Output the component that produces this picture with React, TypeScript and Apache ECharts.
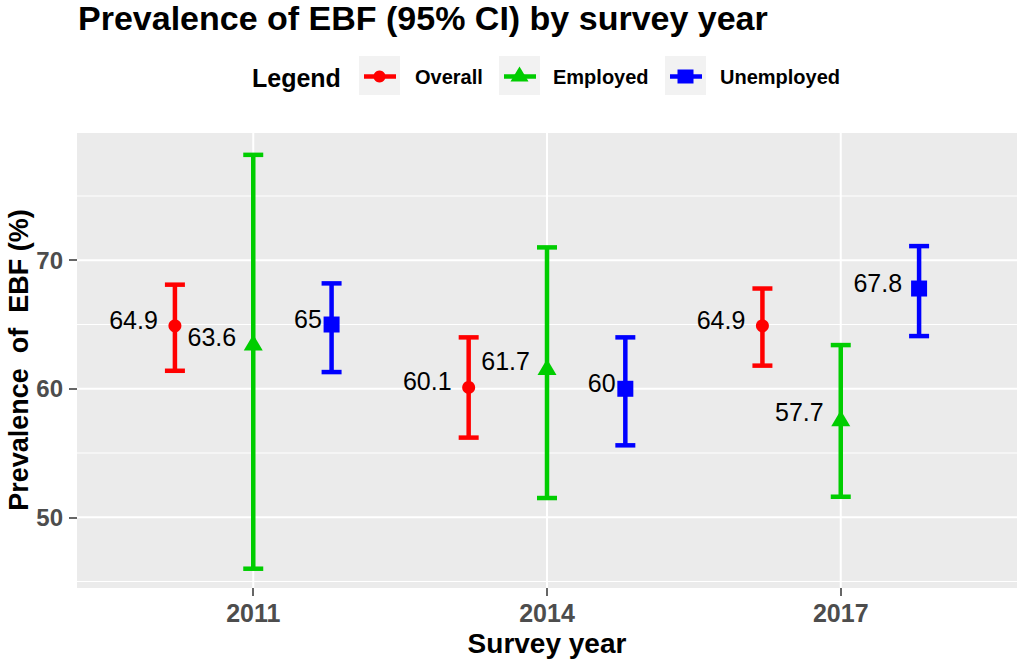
import React, { useEffect, useRef } from "react";
import * as echarts from "echarts";

const years = ["2011", "2014", "2017"];
const groupNames = ["Overall", "Employed", "Unemployed"];

const overallEst = [64.9, 60.1, 64.9];
const overallLow = [61.4, 56.2, 61.8];
const overallHigh = [68.1, 64.0, 67.8];

const employedEst = [63.6, 61.7, 57.7];
const employedLow = [46.0, 51.5, 51.6];
const employedHigh = [78.2, 71.0, 63.4];

const unemployedEst = [65, 60, 67.8];
const unemployedLow = [61.3, 55.6, 64.1];
const unemployedHigh = [68.2, 64.0, 71.1];

const yMajorTicks = [50, 60, 70];
const yMinorTicks = [45, 55, 65, 75];
const xTicks = [1, 2, 3];

const COLORS = ["#FF0000", "#00CD00", "#0000FF"];
const FONT = '"Liberation Sans", Arial, Helvetica, sans-serif';
const DODGE = 0.8 / 3;
const LABEL_SIZE = 25;

const groups = [
  { name: groupNames[0], est: overallEst, low: overallLow, high: overallHigh, symbol: "circle", size: 13, offset: -DODGE },
  { name: groupNames[1], est: employedEst, low: employedLow, high: employedHigh, symbol: "triangle", size: [19, 16], offset: 0 },
  { name: groupNames[2], est: unemployedEst, low: unemployedLow, high: unemployedHigh, symbol: "rect", size: 16, offset: DODGE },
];

function textWidth(s: string, size: number) {
  let w = 0;
  for (const ch of s) w += ch === "." ? 0.278 : 0.556;
  return w * size;
}

const gridLines = [
  ...yMinorTicks.map((v) => ({ axis: "y", value: v, major: false })),
  ...yMajorTicks.map((v) => ({ axis: "y", value: v, major: true })),
  ...xTicks.map((v) => ({ axis: "x", value: v, major: true })),
];

function buildOption(): any {
  const series: any[] = [];

  series.push({
    type: "custom",
    name: "grid",
    z: 1,
    silent: true,
    data: gridLines.map((g) => (g.axis === "y" ? [1, g.value] : [g.value, 60])),
    renderItem: (params: any, api: any) => {
      const g = gridLines[params.dataIndex];
      const cs = params.coordSys;
      const style = { stroke: "#FFFFFF", lineWidth: g.major ? 2 : 1.1 };
      if (g.axis === "y") {
        const y = api.coord([1, g.value])[1];
        return { type: "line", shape: { x1: cs.x, y1: y, x2: cs.x + cs.width, y2: y }, style };
      }
      const x = api.coord([g.value, 60])[0];
      return { type: "line", shape: { x1: x, y1: cs.y, x2: x, y2: cs.y + cs.height }, style };
    },
  });

  groups.forEach((g, gi) => {
    const color = COLORS[gi];
    series.push({
      type: "custom",
      name: g.name + " CI",
      z: 2,
      silent: true,
      encode: { x: 0, y: [1, 2] },
      data: years.map((_, i) => [i + 1 + g.offset, g.low[i], g.high[i]]),
      renderItem: (params: any, api: any) => {
        const x = api.value(0);
        const lo = api.coord([x, api.value(1)]);
        const hi = api.coord([x, api.value(2)]);
        const half = 10;
        const style = { stroke: color, lineWidth: 4.5, lineCap: "butt" };
        return {
          type: "group",
          children: [
            { type: "line", shape: { x1: lo[0], y1: lo[1], x2: hi[0], y2: hi[1] }, style },
            { type: "line", shape: { x1: hi[0] - half, y1: hi[1], x2: hi[0] + half, y2: hi[1] }, style },
            { type: "line", shape: { x1: lo[0] - half, y1: lo[1], x2: lo[0] + half, y2: lo[1] }, style },
          ],
        };
      },
    });
  });

  groups.forEach((g, gi) => {
    series.push({
      type: "scatter",
      name: g.name,
      z: 3,
      symbol: g.symbol,
      symbolSize: g.size,
      itemStyle: { color: COLORS[gi], opacity: 1 },
      label: {
        show: true,
        position: "inside",
        align: "right",
        verticalAlign: "middle",
        color: "#000000",
        fontSize: LABEL_SIZE,
        fontFamily: FONT,
        formatter: (p: any) => String(p.value[1]),
      },
      data: years.map((_, i) => {
        const txt = String(g.est[i]);
        const w = textWidth(txt, LABEL_SIZE);
        return { value: [i + 1 + g.offset, g.est[i]], label: { offset: [-0.35 * w, -6] } };
      }),
    });
  });

  const legendY = 76.5;
  const keyBoxes = [359, 499, 665];
  const keyLabels = [415, 553, 720];
  const graphic: any[] = [
    {
      type: "text",
      x: 78,
      y: 18,
      style: { text: "Prevalence of EBF (95% CI) by survey year", fontSize: 34, fontWeight: "bold", fontFamily: FONT, fill: "#000", align: "left", verticalAlign: "middle" },
    },
    {
      type: "text",
      x: 19,
      y: 360,
      rotation: Math.PI / 2,
      style: { text: "Prevalence  of  EBF (%)", fontSize: 27, fontWeight: "bold", fontFamily: FONT, fill: "#000", align: "center", verticalAlign: "middle" },
    },
    {
      type: "text",
      x: 252,
      y: 78,
      style: { text: "Legend", fontSize: 25, fontWeight: "bold", fontFamily: FONT, fill: "#000", align: "left", verticalAlign: "middle" },
    },
  ];
  groups.forEach((g, gi) => {
    const bx = keyBoxes[gi];
    const cx = bx + 20.5;
    const color = COLORS[gi];
    graphic.push({ type: "rect", shape: { x: bx, y: 56, width: 41, height: 39 }, style: { fill: "#F2F2F2" } });
    graphic.push({ type: "line", shape: { x1: bx + 5, y1: legendY, x2: bx + 37, y2: legendY }, style: { stroke: color, lineWidth: 4.5 } });
    if (g.symbol === "circle") {
      graphic.push({ type: "circle", shape: { cx, cy: legendY, r: 6 }, style: { fill: color } });
    } else if (g.symbol === "triangle") {
      graphic.push({ type: "polygon", shape: { points: [[cx, legendY - 10], [cx - 9, legendY + 5], [cx + 9, legendY + 5]] }, style: { fill: color } });
    } else {
      graphic.push({ type: "rect", shape: { x: cx - 8, y: legendY - 7, width: 16, height: 14 }, style: { fill: color } });
    }
    graphic.push({
      type: "text",
      x: keyLabels[gi],
      y: 77,
      style: { text: g.name, fontSize: 20, fontWeight: "bold", fontFamily: FONT, fill: "#000", align: "left", verticalAlign: "middle" },
    });
  });

  return {
    animation: false,
    backgroundColor: "#FFFFFF",
    textStyle: { fontFamily: FONT },
    grid: {
      left: 77,
      right: 4,
      top: 133,
      bottom: 75,
      show: true,
      backgroundColor: "#EBEBEB",
      borderWidth: 0,
      containLabel: false,
      outerBoundsMode: "none",
    },
    xAxis: {
      type: "value",
      min: 0.4,
      max: 3.6,
      axisLine: { show: false },
      axisTick: { show: true, customValues: xTicks, length: 8, lineStyle: { color: "#333333", width: 1.5 } },
      axisLabel: {
        customValues: xTicks,
        formatter: (v: number) => years[Math.round(v) - 1] ?? "",
        fontSize: 25,
        fontWeight: "bold",
        color: "#4D4D4D",
        fontFamily: FONT,
        margin: 12,
      },
      splitLine: { show: false },
      name: "Survey year",
      nameLocation: "middle",
      nameGap: 55,
      nameTextStyle: { fontSize: 28, fontWeight: "bold", color: "#000", fontFamily: FONT, verticalAlign: "middle" },
    },
    yAxis: {
      type: "value",
      min: 44.5,
      max: 79.9,
      axisLine: { show: false },
      axisTick: { show: true, customValues: yMajorTicks, length: 8, lineStyle: { color: "#333333", width: 1.5 } },
      axisLabel: {
        customValues: yMajorTicks,
        fontSize: 24,
        fontWeight: "bold",
        color: "#4D4D4D",
        fontFamily: FONT,
        margin: 14,
      },
      splitLine: { show: false },
    },
    graphic,
    series,
  };
}

export default function App() {
  const ref = useRef<HTMLDivElement>(null);
  useEffect(() => {
    document.body.style.margin = "0";
    const chart = echarts.init(ref.current!, null, { renderer: "svg" });
    chart.setOption(buildOption());
    return () => chart.dispose();
  }, []);
  return <div ref={ref} style={{ width: 1021, height: 663 }} />;
}
